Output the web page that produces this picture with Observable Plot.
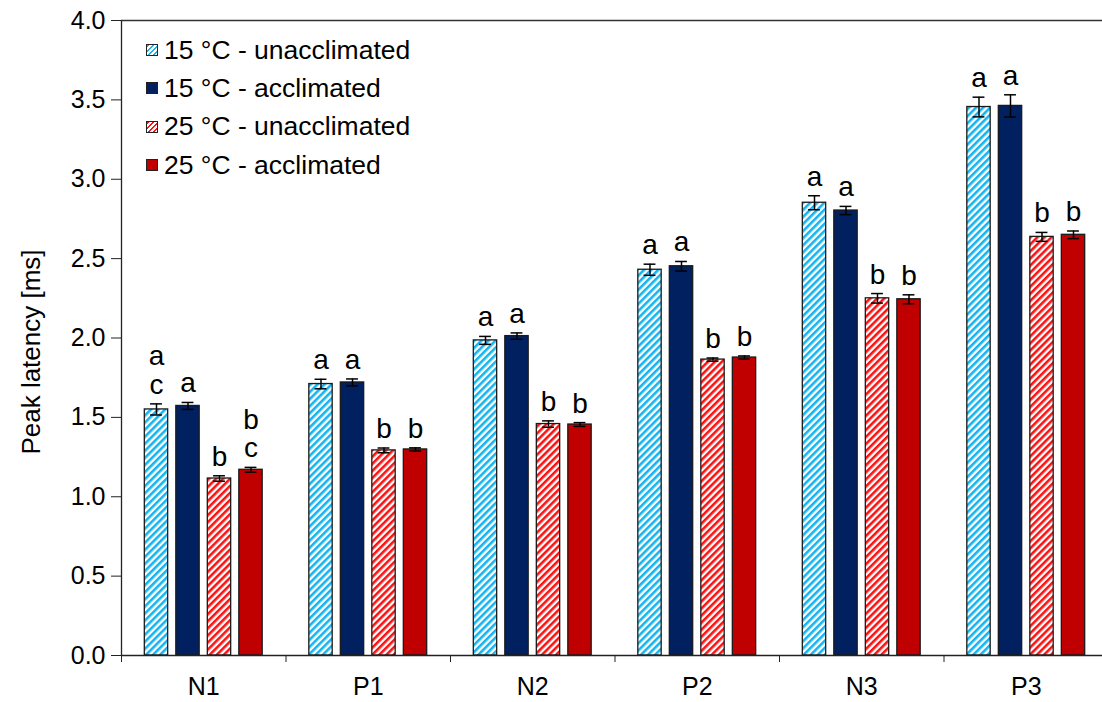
<!DOCTYPE html>
<html><head><meta charset="utf-8">
<script src="https://cdn.jsdelivr.net/npm/d3@7"></script>
<script src="https://cdn.jsdelivr.net/npm/@observablehq/plot@0.6"></script>
<style>
html,body{margin:0;padding:0;background:#fff;overflow:hidden;width:1102px;height:702px}
#wrap{position:relative;width:1102px;height:702px;overflow:hidden}
#chart svg{max-width:none !important;display:block}
#legend{position:absolute;left:146px;top:31px;font:26.5px "Liberation Sans",Arial,sans-serif;color:#000}
.row{display:flex;align-items:center;height:38.3px;white-space:nowrap}
.sw{width:10px;height:10px;border:1px solid #222;margin-right:6px;flex:none}
#ytitle{position:absolute;left:31px;top:352px;transform:translate(-50%,-50%) rotate(-90deg);font:26px "Liberation Sans",Arial,sans-serif;white-space:nowrap;color:#000}
</style></head><body><div id="wrap"><div id="chart"></div><div id="legend"></div><div id="ytitle"></div></div>
<script>
const groups = ["N1", "P1", "N2", "P2", "N3", "P3"];
const seriesNames = ["15 °C - unacclimated", "15 °C - acclimated", "25 °C - unacclimated", "25 °C - acclimated"];
const yTitle = "Peak latency [ms]";
const unacc15 = [1.550, 1.710, 1.985, 2.430, 2.852, 3.455];
const acc15   = [1.572, 1.720, 2.012, 2.452, 2.803, 3.462];
const unacc25 = [1.115, 1.292, 1.458, 1.864, 2.250, 2.637];
const acc25   = [1.170, 1.298, 1.455, 1.877, 2.244, 2.650];
const errUnacc15 = [0.035, 0.030, 0.025, 0.035, 0.044, 0.062];
const errAcc15   = [0.022, 0.022, 0.020, 0.030, 0.026, 0.070];
const errUnacc25 = [0.017, 0.015, 0.020, 0.010, 0.030, 0.028];
const errAcc25   = [0.015, 0.010, 0.012, 0.010, 0.028, 0.024];
const lettersUnacc15 = ["a\nc", "a", "a", "a", "a", "a"];
const lettersAcc15   = ["a", "a", "a", "a", "a", "a"];
const lettersUnacc25 = ["b", "b", "b", "b", "b", "b"];
const lettersAcc25   = ["b\nc", "b", "b", "b", "b", "b"];
const yTicks = [0, 0.5, 1, 1.5, 2, 2.5, 3, 3.5, 4];

const means = [unacc15, acc15, unacc25, acc25];
const errs = [errUnacc15, errAcc15, errUnacc25, errAcc25];
const letters = [lettersUnacc15, lettersAcc15, lettersUnacc25, lettersAcc25];
const fills = ["url(#hatchBlue)", "#002060", "url(#hatchRed)", "#c00000"];
const legendBg = [
  "repeating-linear-gradient(135deg,#14b4f0 0 1.8px,#fff 1.8px 3.6px)",
  "#002060",
  "repeating-linear-gradient(135deg,#ff1010 0 1.8px,#fff 1.8px 3.6px)",
  "#c00000"
];

const pitch = 0.1915, bw = 0.142, capW = 0.036;
const rows = seriesNames.flatMap((s, k) => groups.map((g, i) => ({
  group: g, gi: i, k, series: s, mean: means[k][i], err: errs[k][i], letter: letters[k][i]
})));
const cx = d => d.gi + 0.5 + (d.k - 1.5) * pitch;

const marks = [];
seriesNames.forEach((s, k) => {
  marks.push(Plot.rect(rows.filter(d => d.k === k), {
    x1: d => cx(d) - bw / 2, x2: d => cx(d) + bw / 2, y1: 0, y2: "mean",
    fill: fills[k], stroke: "#1a1a1a", strokeWidth: 1.3
  }));
});
marks.push(
  Plot.ruleX(rows, {x: cx, y1: d => d.mean - d.err, y2: d => d.mean + d.err, stroke: "#000", strokeWidth: 1.5}),
  Plot.ruleY(rows, {y: d => d.mean + d.err, x1: d => cx(d) - capW, x2: d => cx(d) + capW, stroke: "#000", strokeWidth: 1.5}),
  Plot.ruleY(rows, {y: d => d.mean - d.err, x1: d => cx(d) - capW, x2: d => cx(d) + capW, stroke: "#000", strokeWidth: 1.5}),
  Plot.text(rows, {x: cx, y: d => d.mean + d.err, text: "letter", lineAnchor: "bottom", dy: -10, fontSize: 28, lineHeight: 1.02, fill: "#000"}),
  Plot.axisY({ticks: yTicks, tickFormat: d => d.toFixed(1), tickSize: 10, tickPadding: 6, fontSize: 25,
    label: null, stroke: "#222"}),
  Plot.axisX({ticks: d3.range(0, groups.length + 1), tickFormat: () => "", tickSize: 7, label: null, stroke: "#222"}),
  Plot.axisX({ticks: groups.map((g, i) => i + 0.5), tickFormat: d => groups[Math.floor(d)], tickSize: 0, tickPadding: 22, fontSize: 25, label: null}),
  Plot.ruleY([0], {stroke: "#222", strokeWidth: 1.3}),
  Plot.ruleY([4], {stroke: "#333", strokeWidth: 1.3}),
  Plot.ruleX([0], {stroke: "#222", strokeWidth: 1.3})
);

const svg = Plot.plot({
  width: 1110, height: 702,
  marginLeft: 121, marginRight: 2, marginTop: 20, marginBottom: 47,
  x: {domain: [0, groups.length], axis: null},
  y: {domain: [0, 4], axis: null},
  style: {fontFamily: "'Liberation Sans', Arial, sans-serif", fontSize: "25px", color: "#000", background: "#fff", maxWidth: "none"},
  marks
});

const defs = d3.select(svg).insert("defs", ":first-child");
[["hatchBlue", "#14b4f0"], ["hatchRed", "#ff1010"]].forEach(([id, c]) => {
  const p = defs.append("pattern").attr("id", id).attr("patternUnits", "userSpaceOnUse")
    .attr("width", 5).attr("height", 5).attr("patternTransform", "rotate(45)");
  p.append("rect").attr("width", 5).attr("height", 5).attr("fill", "#fff");
  p.append("rect").attr("width", 2.6).attr("height", 5).attr("fill", c);
});
document.getElementById("chart").appendChild(svg);

const legend = d3.select("#legend");
seriesNames.forEach((s, k) => {
  const r = legend.append("div").attr("class", "row");
  r.append("div").attr("class", "sw").style("background", legendBg[k]);
  r.append("span").text(s);
});
d3.select("#ytitle").text(yTitle);
</script>
</body></html>
